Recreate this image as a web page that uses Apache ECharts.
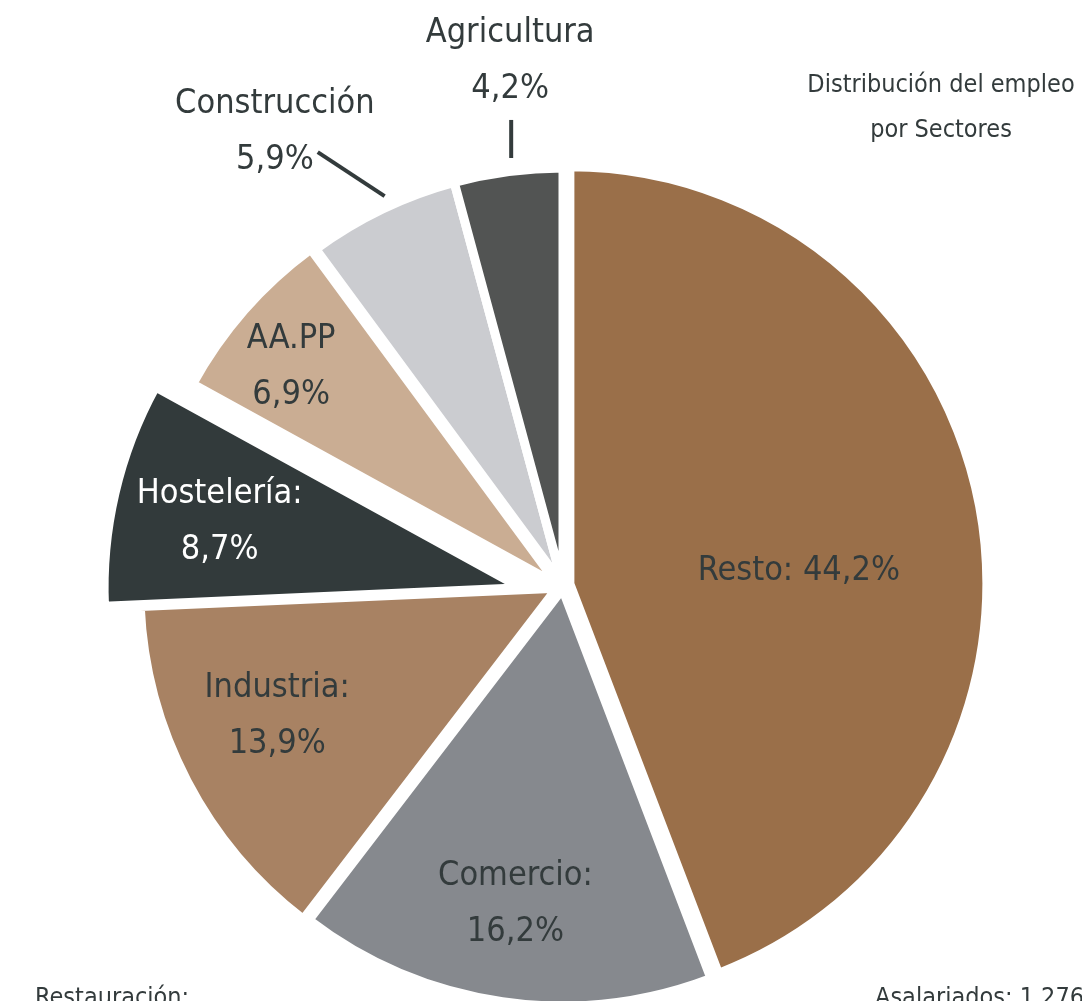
<!DOCTYPE html>
<html>
<head>
<meta charset="utf-8">
<script src="https://cdn.jsdelivr.net/npm/echarts@6/dist/echarts.min.js"></script>
<style>
  html, body { margin: 0; padding: 0; background: #fff; }
  #chart { width: 1082px; height: 1001px; }
</style>
</head>
<body>
<div id="chart"></div>
<script>
// sectors, clockwise from 12 o'clock
var sectors = ['Resto', 'Comercio', 'Industria', 'Hostelería', 'AA.PP', 'Construcción', 'Agricultura'];
var shares = [44.2, 16.2, 13.9, 8.7, 6.9, 5.9, 4.2];
var labelSeparators = [': ', ':\n', ':\n', ':\n', '\n', '\n', '\n'];
var sectorColors = ['#9a6f49', '#86898e', '#a88263', '#323a3b', '#caad93', '#cbccd0', '#525453'];
var titleLines = ['Distribución del empleo', 'por Sectores'];
var footLeft = 'Restauración:';
var footRight = 'Asalariados: 1.276';

var FONT = '"Liberation Sans Narrow", "DejaVu Sans Condensed", sans-serif';
var INK = '#333b3c';
var CX = 563, CY = 585, R = 417;
var DEG = Math.PI / 180;

// how far each slice is pulled out: [distance px, turn off the bisector in degrees]
var pullOut = {
  'Resto': [7, 0],
  'Comercio': [4, 0],
  'Industria': [7, 0],
  'Hostelería': [42, -17],
  'AA.PP': [5, -40],
  'Construcción': [0, 0],
  'Agricultura': [0, 0]
};
// where each label sits: fraction of radius along the slice bisector, plus a turn (deg)
var labelPlace = {
  'Resto': [0.55, 7.2],
  'Comercio': [0.764, 0.2],
  'Industria': [0.737, 3],
  'Hostelería': [0.74, -0.8],
  'AA.PP': [0.826, -2.0],
  'Construcción': [1.288, -6.7],
  'Agricultura': [1.262, 1.8]
};
var outsideLabels = { 'Construcción': true, 'Agricultura': true };

function fmt(v) {
  return v.toFixed(1).replace('.', ',') + '%';
}

var total = shares.reduce(function (a, b) { return a + b; }, 0);
var midAngles = [];
(function () {
  var acc = 0;
  for (var i = 0; i < shares.length; i++) {
    midAngles.push(-Math.PI / 2 + 2 * Math.PI * (acc + shares[i] / 2) / total);
    acc += shares[i];
  }
})();

function polar(c, r, a) {
  return [c[0] + r * Math.cos(a), c[1] + r * Math.sin(a)];
}

// centre of slice k once pulled out from the pie
function sliceCenter(k) {
  var p = pullOut[sectors[k]];
  return polar([CX, CY], p[0], midAngles[k] + p[1] * DEG);
}

function labelLayoutFor(k) {
  return function () {
    var name = sectors[k];
    var c = sliceCenter(k);
    var mid = midAngles[k];
    var place = labelPlace[name];
    var pos = polar(c, place[0] * R, mid + place[1] * DEG);
    var out = { x: pos[0], y: pos[1], align: 'center', verticalAlign: 'middle' };
    if (name === 'Agricultura') {
      // short vertical tick under the label
      var y0 = c[1] + 1.033 * R * Math.sin(mid), y1 = c[1] + 1.125 * R * Math.sin(mid);
      out.labelLinePoints = [[pos[0] + 1, y0], [pos[0] + 1, y0], [pos[0] + 1, y1]];
    } else if (name === 'Construcción') {
      var p0 = polar(c, 1.026 * R, mid + 1.1 * DEG);
      var p1 = polar(c, 1.193 * R, mid - 3.8 * DEG);
      out.labelLinePoints = [p0, p0, p1];
    }
    return out;
  };
}

// one pie per sector: every pie carries all values (so angles agree) but draws only its own slice
function sliceSeries(k) {
  var name = sectors[k];
  return {
    type: 'pie',
    center: sliceCenter(k),
    radius: R,
    startAngle: 90,
    clockwise: true,
    avoidLabelOverlap: false,
    silent: true,
    animation: false,
    emphasis: { disabled: true },
    label: {
      position: 'outside',
      alignTo: 'none',
      fontFamily: FONT,
      fontSize: 34,
      lineHeight: 56,
      color: name === 'Hostelería' ? '#ffffff' : INK,
      formatter: function (p) {
        return p.name + labelSeparators[p.dataIndex] + fmt(p.value);
      }
    },
    labelLine: { length: 10, length2: 0, lineStyle: { color: INK, width: 4 } },
    labelLayout: labelLayoutFor(k),
    data: sectors.map(function (n, i) {
      var mine = i === k;
      return {
        name: n,
        value: shares[i],
        itemStyle: mine
          ? { color: sectorColors[i], borderColor: '#ffffff', borderWidth: 9 }
          : { color: 'transparent', borderWidth: 0 },
        label: { show: mine },
        labelLine: { show: mine && !!outsideLabels[n] }
      };
    })
  };
}

var chart = echarts.init(document.getElementById('chart'), null, { renderer: 'canvas' });
chart.setOption({
  backgroundColor: '#ffffff',
  animation: false,
  series: sectors.map(function (n, k) { return sliceSeries(k); }),
  graphic: [
    {
      type: 'text', x: 941, y: 63,
      style: { text: titleLines.join('\n'), font: '25px ' + FONT, fill: INK, align: 'center', lineHeight: 45 }
    },
    {
      type: 'text', x: 35, y: 986,
      style: { text: footLeft, font: '25px ' + FONT, fill: INK }
    },
    {
      type: 'text', x: 875, y: 986,
      style: { text: footRight, font: '25px ' + FONT, fill: INK }
    }
  ]
});
</script>
</body>
</html>
